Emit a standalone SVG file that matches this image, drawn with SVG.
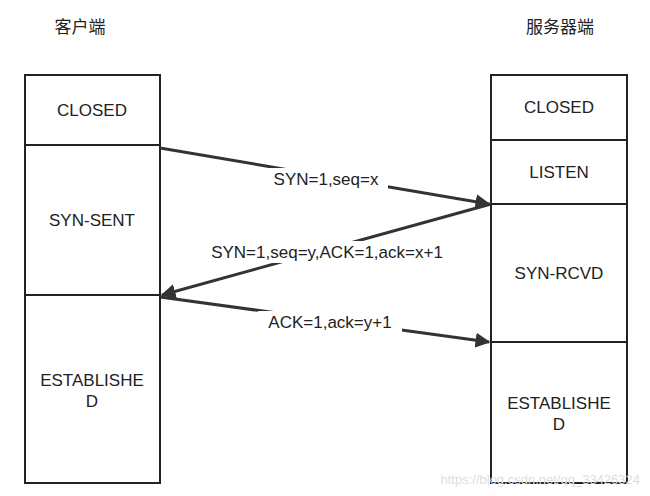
<svg xmlns="http://www.w3.org/2000/svg" width="650" height="496" viewBox="0 0 650 496">
<style>
.b{fill:#fff;stroke:#222;stroke-width:2}
.t{font-family:"Liberation Sans","Noto Sans CJK SC",sans-serif;font-size:17px;fill:#222;text-anchor:middle}
.c{stroke:#333;stroke-width:3;fill:none}
.lb{fill:#fff}
</style>
<defs><marker id="a" viewBox="0 0 10 10" refX="9" refY="5" markerWidth="5" markerHeight="5" orient="auto" markerUnits="strokeWidth"><path d="M0,0L10,5L0,10Z" fill="#333"/></marker></defs>
<rect width="650" height="496" fill="#fff"/>
<text class="t" x="80" y="33">客户端</text>
<text class="t" x="560" y="33">服务器端</text>
<g id="c-closed"><rect class="b" x="25" y="75" width="135" height="70"/><text class="t" x="92" y="116">CLOSED</text></g>
<g id="c-synsent"><rect class="b" x="25" y="145" width="135" height="150"/><text class="t" x="92" y="226">SYN-SENT</text></g>
<g id="c-est"><rect class="b" x="25" y="295" width="135" height="188"/><text class="t" x="92" y="386">ESTABLISHE</text><text class="t" x="92" y="407">D</text></g>
<g id="s-closed"><rect class="b" x="491" y="75" width="136" height="65"/><text class="t" x="559" y="113">CLOSED</text></g>
<g id="s-listen"><rect class="b" x="491" y="140" width="136" height="64"/><text class="t" x="559" y="178">LISTEN</text></g>
<g id="s-rcvd"><rect class="b" x="491" y="204" width="136" height="138"/><text class="t" x="559" y="279">SYN-RCVD</text></g>
<g id="s-est"><rect class="b" x="491" y="342" width="136" height="141"/><text class="t" x="559" y="409">ESTABLISHE</text><text class="t" x="559" y="430">D</text></g>
<g id="connectors">
<path class="c" d="M160,148L489,204" marker-end="url(#a)"/>
<path class="c" d="M491,204L162,295" marker-end="url(#a)"/>
<path class="c" d="M160,297L489,342" marker-end="url(#a)"/>
<rect class="lb" x="264" y="168" width="124" height="22"/>
<text class="t" x="326" y="185">SYN=1,seq=x</text>
<rect class="lb" x="198" y="241" width="258" height="22"/>
<text class="t" x="327" y="258">SYN=1,seq=y,ACK=1,ack=x+1</text>
<rect class="lb" x="258" y="311" width="144" height="22"/>
<text class="t" x="330" y="328">ACK=1,ack=y+1</text>
</g>
<text x="640" y="484" style="font-family:'Liberation Sans',sans-serif;font-size:13px;fill:#ddd;text-anchor:end">https://blog.csdn.net/qq_33426324</text>
</svg>
